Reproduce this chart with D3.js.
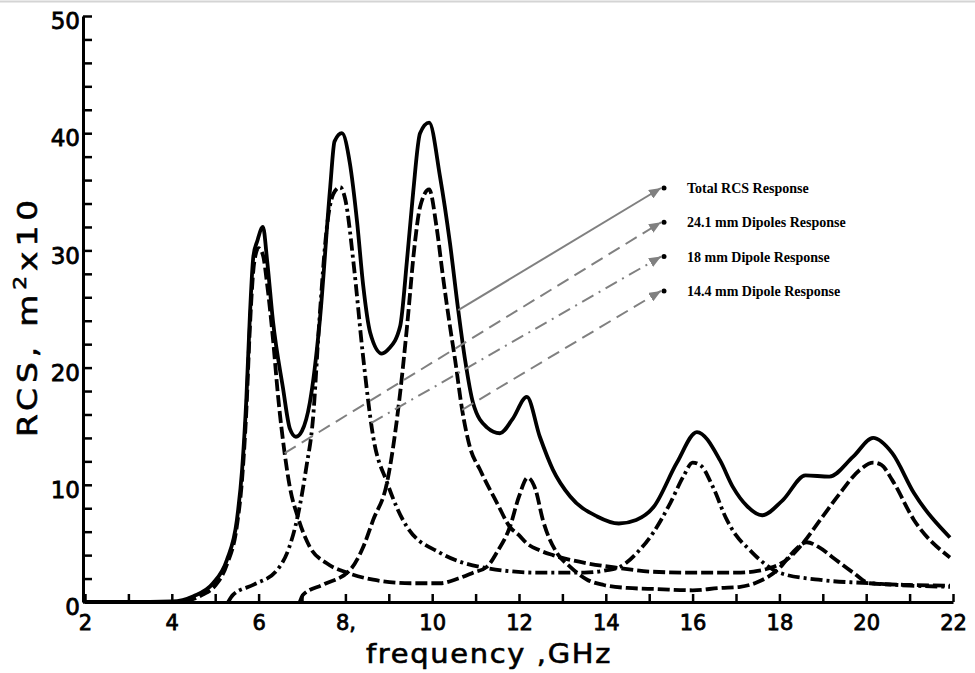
<!DOCTYPE html>
<html>
<head>
<meta charset="utf-8">
<script src="https://cdn.jsdelivr.net/npm/d3@7"></script>
<style>
    body { margin: 0; background: #fff; }
    svg { display: block; }
</style>
</head>
<body>
<div id="chart"></div>
<script>
// [frequency GHz, RCS m^2 x10]
const totalRcs = [
    [2, 0], [3, 0], [4, 0.05], [4.5, 0.5], [4.95, 1.6], [5.27, 3.6], [5.5, 7], [5.62, 11.3],
    [5.72, 17.5], [5.8, 24.5], [5.88, 29.5], [5.97, 30.8], [6.1, 32], [6.2, 29], [6.33, 24],
    [6.56, 18.3], [6.72, 14.8], [6.86, 14.1], [7.0, 14.6], [7.18, 17], [7.41, 24], [7.65, 35.4],
    [7.75, 39.3], [7.92, 40], [8.1, 37.5], [8.27, 32.4], [8.41, 27], [8.57, 23], [8.84, 21.2],
    [9.0, 21.6], [9.26, 23.5], [9.42, 29.2], [9.56, 34.9], [9.72, 40], [9.93, 40.9], [10.18, 36.3],
    [10.41, 30.6], [10.6, 24.9], [10.76, 20.6], [10.94, 17.0], [11.26, 14.9], [11.56, 14.4],
    [11.85, 15.6], [12.18, 17.5], [12.48, 14.1], [12.78, 11.3], [13.18, 9.0], [13.8, 7.3],
    [14.3, 6.7], [14.7, 7.0], [15.1, 8.1], [15.64, 11.9], [16.1, 14.5], [16.63, 12.1],
    [16.93, 9.8], [17.25, 8.2], [17.6, 7.4], [18.08, 8.7], [18.6, 10.8], [19.15, 10.7],
    [19.7, 12.4], [20.16, 14.0], [20.6, 12.7], [21.1, 9.3], [21.93, 5.5]
];

const dipole241 = [
    [4.3, 0], [4.7, 0.6], [5.0, 1.4], [5.27, 3.2], [5.5, 6.5], [5.62, 10.5], [5.72, 16.5],
    [5.8, 23.5], [5.9, 29], [6.0, 30.2], [6.1, 29.6], [6.2, 27], [6.33, 22.5], [6.45, 17.5],
    [6.6, 12.7], [6.72, 9.8], [6.9, 7.3], [7.18, 4.7], [7.57, 3.3], [8.04, 2.5], [8.64, 1.9],
    [9.5, 1.6], [10.18, 1.6], [10.6, 2.0], [10.94, 2.5], [11.26, 3.0], [11.5, 4.3], [11.79, 6.4],
    [12.0, 9.0], [12.2, 10.6], [12.38, 9.6], [12.55, 7.0], [12.87, 4.2], [13.18, 3.0],
    [13.57, 1.9], [13.95, 1.45], [14.5, 1.2], [15.2, 1.1], [16, 1.0], [16.63, 1.2], [17.1, 1.3],
    [17.5, 1.7], [18.0, 2.9], [18.3, 4.2], [18.63, 5.1], [18.9, 4.7], [19.23, 3.8], [19.7, 2.5],
    [20.08, 1.6], [21, 1.45], [21.93, 1.4]
];

const dipole18 = [
    [5.3, 0], [5.41, 0.6], [5.9, 1.5], [6.42, 2.7], [6.7, 4.6], [6.9, 7.3], [7.1, 11.5],
    [7.25, 15.5], [7.4, 24], [7.58, 32.2], [7.72, 34.8], [7.88, 35.4], [8.0, 34.3], [8.2, 28.5],
    [8.4, 21.2], [8.64, 14.1], [8.96, 10.2], [9.42, 6.4], [10.18, 4.2], [11.1, 3.0], [12.48, 2.5],
    [13.5, 2.5], [14.0, 2.7], [14.33, 3.0], [14.72, 4.2], [15.09, 5.9], [15.48, 8.4], [15.8, 10.8],
    [16.0, 11.9], [16.2, 11.6], [16.47, 9.8], [16.79, 7.0], [17.0, 5.7], [17.3, 4.5],
    [17.55, 3.6], [18.0, 2.5], [18.9, 1.9], [20.1, 1.6], [21, 1.4], [21.93, 1.3]
];

const dipole144 = [
    [6.95, 0], [7.02, 0.6], [7.5, 1.5], [8.1, 2.7], [8.4, 4.6], [8.64, 7.0], [8.96, 10.2],
    [9.26, 17.8], [9.42, 23.5], [9.6, 30.6], [9.72, 33.7], [9.93, 35.2], [10.1, 32.0],
    [10.25, 27.7], [10.41, 23.5], [10.53, 20.6], [10.69, 16.4], [10.87, 13.2], [11.1, 11.3],
    [11.5, 8.4], [11.79, 6.4], [12.0, 5.7], [12.18, 5.0], [12.48, 4.4], [12.78, 4.0],
    [13.57, 3.3], [14.3, 2.9], [15, 2.6], [16, 2.5], [17, 2.5], [17.4, 2.6], [17.78, 2.9],
    [18.17, 3.6], [18.47, 4.7], [18.94, 7.0], [19.4, 9.3], [19.86, 11.3], [20.16, 11.9],
    [20.35, 11.7], [20.6, 10.4], [21.1, 7.0], [21.93, 3.8]
];

const xTickLabels = ["2", "4", "6", "8,", "10", "12", "14", "16", "18", "20", "22"];
const yTickLabels = ["0", "10", "20", "30", "40", "50"];
const legendLabels = ["Total RCS Response", "24.1 mm Dipoles Response", "18 mm Dipole Response", "14.4 mm Dipole Response"];
// frequency where each legend arrow leaves its curve
const arrowFreq = [10.6, 6.6, 8.6, 10.69];


class RcsChart {
    constructor(_parentElement) {
        this.parentElement = _parentElement;
        this.series = [totalRcs, dipole241, dipole18, dipole144];
        this.initVis();
    }

    initVis() {
        let vis = this;
        vis.width = 975;
        vis.height = 673;

        vis.svg = d3.select("#" + vis.parentElement).append("svg")
            .attr("width", vis.width)
            .attr("height", vis.height);

        vis.svg.append("rect")
            .attr("width", vis.width).attr("height", vis.height)
            .attr("fill", "#fff");

        // thin scan border at the top
        vis.svg.append("line")
            .attr("x1", 0).attr("x2", vis.width)
            .attr("y1", 1.5).attr("y2", 1.5)
            .attr("stroke", "#d4d4d4").attr("stroke-width", 2);

        vis.x = d3.scaleLinear().domain([2, 22]).range([85, 953]);
        vis.y = d3.scaleLinear().domain([0, 50]).range([602, 16]);

        vis.xAxis = d3.axisBottom(vis.x)
            .tickValues(d3.range(2, 23, 1))
            .tickSizeInner(-8)
            .tickSizeOuter(0)
            .tickPadding(13)
            .tickFormat(d => d % 2 === 0 ? xTickLabels[(d - 2) / 2] : "");

        vis.yAxis = d3.axisLeft(vis.y)
            .tickValues(d3.range(0, 51, 2))
            .tickSizeInner(-9)
            .tickSizeOuter(0)
            .tickPadding(3)
            .tickFormat(d => d % 10 === 0 ? yTickLabels[d / 10] : "");

        vis.lineFunc = d3.line()
            .x(d => vis.x(d[0]))
            .y(d => vis.y(d[1]))
            .curve(d3.curveMonotoneX);

        vis.updateVis();
    }

    updateVis() {
        let vis = this;

        // component curves first, total on top
        let styles = [
            { data: dipole241, dash: "12,4" },
            { data: dipole18, dash: "12,4,3,4" },
            { data: dipole144, dash: "12,4" },
            { data: totalRcs, dash: null }
        ];

        vis.svg.selectAll(".curve")
            .data(styles)
            .enter()
            .append("path")
            .attr("class", "curve")
            .attr("d", d => vis.lineFunc(d.data))
            .attr("fill", "none")
            .attr("stroke", "#000")
            .attr("stroke-width", 3.8)
            .attr("stroke-linejoin", "round")
            .attr("stroke-dasharray", d => d.dash);

        // axes
        let gx = vis.svg.append("g")
            .attr("class", "x-axis")
            .attr("transform", "translate(0," + vis.y(0) + ")")
            .call(vis.xAxis);
        gx.select(".domain").attr("stroke-width", 3);
        gx.selectAll(".tick line").attr("stroke-width", 2.5);
        gx.selectAll("text")
            .attr("font-family", "DejaVu Sans, sans-serif")
            .attr("font-size", 21)
            .attr("fill", "#000")
            .attr("stroke", "#000")
            .attr("stroke-width", 0.8);

        let gy = vis.svg.append("g")
            .attr("class", "y-axis")
            .attr("transform", "translate(" + (vis.x(2) - 2) + ",0)")
            .call(vis.yAxis);
        gy.select(".domain").attr("stroke-width", 3);
        gy.selectAll(".tick line").attr("stroke-width", 2.5);
        gy.selectAll("text")
            .attr("dy", "0.55em")
            .attr("font-family", "DejaVu Sans, sans-serif")
            .attr("font-size", 23)
            .attr("fill", "#000")
            .attr("stroke", "#000")
            .attr("stroke-width", 0.8);

        // axis titles
        let yTitle = vis.svg.append("text")
            .attr("transform", "translate(37,316) rotate(-90)")
            .attr("text-anchor", "middle")
            .attr("font-family", "DejaVu Sans, sans-serif")
            .attr("font-size", 27)
            .attr("letter-spacing", 4)
            .attr("fill", "#000")
            .attr("stroke", "#000")
            .attr("stroke-width", 0.6)
            .attr("textLength", 242)
            .attr("lengthAdjust", "spacingAndGlyphs");
        yTitle.append("tspan").text("RCS, m");
        yTitle.append("tspan").attr("dy", -11).attr("font-size", 18).text("2");
        yTitle.append("tspan").attr("dy", 11).text("x10");

        vis.svg.append("text")
            .attr("x", 489)
            .attr("y", 663)
            .attr("text-anchor", "middle")
            .attr("font-family", "DejaVu Sans, sans-serif")
            .attr("font-size", 26)
            .attr("letter-spacing", 1.5)
            .attr("fill", "#000")
            .attr("stroke", "#000")
            .attr("stroke-width", 0.6)
            .attr("textLength", 246)
            .attr("lengthAdjust", "spacingAndGlyphs")
            .text("frequency ,GHz");

        // legend arrows
        vis.svg.append("defs").append("marker")
            .attr("id", "arrowHead")
            .attr("viewBox", "0 0 12 10")
            .attr("refX", 12).attr("refY", 5)
            .attr("markerWidth", 12).attr("markerHeight", 10)
            .attr("markerUnits", "userSpaceOnUse")
            .attr("orient", "auto")
            .append("path")
            .attr("d", "M0,0 L12,5 L0,10 Z")
            .attr("fill", "#808080");

        let arrowDash = [null, "13,7", "13,6,2,6", "13,7"];
        let legendX = 664, legendY0 = 188, legendStep = 34.3;

        let interp = (series, f) => {
            let i = d3.bisector(d => d[0]).left(series, f);
            let a = series[i - 1], b = series[i];
            return a[1] + (b[1] - a[1]) * (f - a[0]) / (b[0] - a[0]);
        };

        vis.series.forEach((s, i) => {
            let ly = legendY0 + i * legendStep;
            vis.svg.append("line")
                .attr("x1", vis.x(arrowFreq[i]))
                .attr("y1", vis.y(interp(s, arrowFreq[i])))
                .attr("x2", legendX - 3)
                .attr("y2", ly)
                .attr("stroke", "#808080")
                .attr("stroke-width", 2)
                .attr("stroke-dasharray", arrowDash[i])
                .attr("marker-end", "url(#arrowHead)");

            vis.svg.append("circle")
                .attr("cx", legendX)
                .attr("cy", ly)
                .attr("r", 2.5)
                .attr("fill", "#000");

            vis.svg.append("text")
                .attr("x", legendX + 23)
                .attr("y", ly + 5)
                .attr("font-family", "Liberation Serif, Times New Roman, serif")
                .attr("font-weight", "bold")
                .attr("font-size", 14)
                .attr("fill", "#000")
                .text(legendLabels[i]);
        });
    }
}

new RcsChart("chart");
</script>
</body>
</html>
